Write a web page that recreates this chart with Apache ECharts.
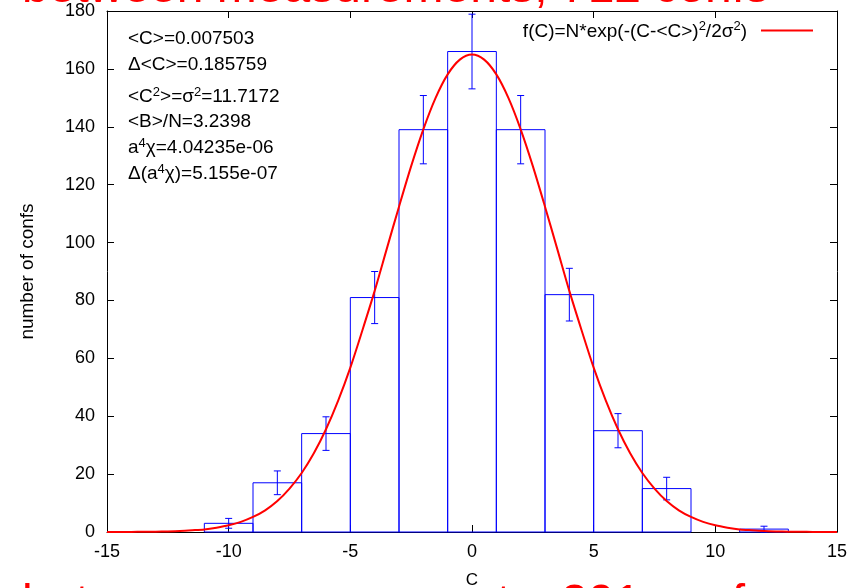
<!DOCTYPE html>
<html>
<head>
<meta charset="utf-8">
<title>C distribution</title>
<script src="https://cdn.jsdelivr.net/npm/echarts@6/dist/echarts.min.js"></script>
<style>
    html, body { margin: 0; padding: 0; background: #fff; }
    #chart { width: 852px; height: 588px; }
</style>
</head>
<body>
<div id="chart"></div>
<script>
'use strict';

// histogram bins (centre of each bin, width 2) and counts
var binCentres = [-10, -8, -6, -4, -2, 0, 2, 4, 6, 8, 10, 12];
var binCounts  = [3, 17, 34, 81, 139, 166, 139, 82, 35, 15, 0, 1];
var binErrors  = [1.7, 4.1, 5.8, 9.0, 11.8, 12.9, 11.8, 9.1, 5.9, 3.9, 0, 1.0];
var binHalf = 1;

// fitted gaussian, every half unit
var curveX = [-15, -14.5, -14, -13.5, -13, -12.5, -12, -11.5, -11, -10.5, -10, -9.5, -9, -8.5,
              -8, -7.5, -7, -6.5, -6, -5.5, -5, -4.5, -4, -3.5, -3, -2.5, -2, -1.5, -1, -0.5,
              0, 0.5, 1, 1.5, 2, 2.5, 3, 3.5, 4, 4.5, 5, 5.5, 6, 6.5, 7, 7.5, 8, 8.5,
              9, 9.5, 10, 10.5, 11, 11.5, 12, 12.5, 13, 13.5, 14, 14.5, 15];
var curveY = [0, 0.02, 0.04, 0.07, 0.12, 0.21, 0.35, 0.6, 0.9, 1.5, 2.3, 3.5, 5.2, 7.5,
              10.7, 15.0, 20.4, 27.2, 35.5, 45.4, 56.8, 69.8, 83.3, 97.9, 112.4, 126.4, 139.1, 149.9, 158.1, 163.2,
              165, 163.2, 158.1, 149.9, 139.1, 126.4, 112.4, 97.9, 83.3, 69.8, 56.8, 45.4, 35.5, 27.2, 20.4, 15.0, 10.7, 7.5,
              5.2, 3.5, 2.3, 1.5, 0.9, 0.6, 0.35, 0.21, 0.12, 0.07, 0.04, 0.02, 0];

var curveName = 'f(C)=N*exp(-(C-<C>)^2/2σ^2)';

// fit results printed in the top left corner
var statLines = [
    '{n|<C>=0.007503}',
    '{n|Δ<C>=0.185759}',
    '{n|<C}{s|2}{n|>=σ}{s|2}{n|=11.7172}',
    '{n|<B>/N=3.2398}',
    '{n|a}{s|4}{n|χ=4.04235e-06}',
    '{n|Δ(a}{s|4}{n|χ)=5.155e-07}'
];
var statY = [38, 64, 96, 121, 147, 173];

var titleTop = 'between measurements, 712 confs';
var titleBottom = 'between measurements, 201 confs';

var FONT = '"Liberation Sans", Arial, sans-serif';

var richText = {
    n: { fontSize: 19, fontFamily: FONT, color: '#000', lineHeight: 21, verticalAlign: 'bottom' },
    s: { fontSize: 13, fontFamily: FONT, color: '#000', lineHeight: 21, verticalAlign: 'top' },
    g: { width: 9, lineHeight: 21 }
};

var chart = echarts.init(document.getElementById('chart'), null, { renderer: 'canvas' });

function renderBin(params, api) {
    var c = api.value(0);
    var v = api.value(1);
    if (!v) {
        return null;
    }
    var p0 = api.coord([c - binHalf, 0]);
    var p1 = api.coord([c + binHalf, v]);
    return {
        type: 'rect',
        shape: { x: p0[0], y: p1[1], width: p1[0] - p0[0], height: p0[1] - p1[1] },
        style: { fill: 'none', stroke: '#0000ff', lineWidth: 1 }
    };
}

function renderError(params, api) {
    var c = api.value(0);
    var v = api.value(1);
    var e = api.value(2);
    if (!e) {
        return null;
    }
    var hi = api.coord([c, v + e]);
    var lo = api.coord([c, v - e]);
    var cap = 3.5;
    var style = { stroke: '#0000ff', lineWidth: 1 };
    return {
        type: 'group',
        children: [
            { type: 'line', shape: { x1: hi[0], y1: hi[1], x2: lo[0], y2: lo[1] }, style: style },
            { type: 'line', shape: { x1: hi[0] - cap, y1: hi[1], x2: hi[0] + cap, y2: hi[1] }, style: style },
            { type: 'line', shape: { x1: lo[0] - cap, y1: lo[1], x2: lo[0] + cap, y2: lo[1] }, style: style }
        ]
    };
}

var binData = binCentres.map(function (c, i) { return [c, binCounts[i]]; });
var errData = binCentres.map(function (c, i) { return [c, binCounts[i], binErrors[i]]; });
var curveData = curveX.map(function (x, i) { return [x, curveY[i]]; });

var axisLine = { show: true, onZero: false, lineStyle: { color: '#000', width: 1 } };
var axisTick = { show: true, inside: true, length: 7, lineStyle: { color: '#000', width: 1 } };
var axisLabel = { color: '#000', fontSize: 18, fontFamily: FONT };

var graphics = statLines.map(function (line, i) {
    return {
        type: 'text',
        x: 128,
        y: statY[i],
        z: 10,
        style: { text: line, rich: richText, verticalAlign: 'middle', align: 'left' }
    };
});

// overlapping red captions, cut off at the top and bottom edges
graphics.push({
    type: 'text', x: 22, y: -11.5, z: 20,
    style: { text: titleTop, fill: '#ff0000', font: '48px ' + FONT, verticalAlign: 'middle', align: 'left' }
});
graphics.push({
    type: 'text', x: 22, y: 605, z: 20,
    style: { text: titleBottom, fill: '#ff0000', font: '48px ' + FONT, verticalAlign: 'middle', align: 'left' }
});

var option = {
    animation: false,
    backgroundColor: '#fff',
    grid: { left: 107, right: 15, top: 11, bottom: 56, outerBoundsMode: 'none', containLabel: false },
    legend: {
        data: [curveName],
        right: 39,
        top: 20,
        padding: 0,
        align: 'right',
        icon: 'rect',
        itemWidth: 52,
        itemHeight: 2,
        formatter: function () {
            return '{n|f(C)=N*exp(-(C-<C>)}{s|2}{n|/2σ}{s|2}{n|)}{g| }';
        },
        textStyle: { rich: richText }
    },
    xAxis: [{
        type: 'value',
        min: -15,
        max: 15,
        interval: 5,
        name: 'C',
        nameLocation: 'middle',
        nameGap: 40,
        nameTextStyle: { color: '#000', fontSize: 17, fontFamily: FONT },
        axisLine: axisLine,
        axisTick: axisTick,
        axisLabel: Object.assign({ margin: 11 }, axisLabel),
        splitLine: { show: false }
    }, {
        type: 'value',
        position: 'top',
        min: -15,
        max: 15,
        interval: 5,
        axisLine: axisLine,
        axisTick: axisTick,
        axisLabel: { show: false },
        splitLine: { show: false }
    }],
    yAxis: [{
        type: 'value',
        min: 0,
        max: 180,
        interval: 20,
        name: 'number of confs',
        nameLocation: 'middle',
        nameGap: 70,
        nameTextStyle: { color: '#000', fontSize: 19, fontFamily: FONT },
        axisLine: axisLine,
        axisTick: axisTick,
        axisLabel: Object.assign({ margin: 12 }, axisLabel),
        splitLine: { show: false }
    }, {
        type: 'value',
        position: 'right',
        min: 0,
        max: 180,
        interval: 20,
        axisLine: axisLine,
        axisTick: axisTick,
        axisLabel: { show: false },
        splitLine: { show: false }
    }],
    series: [{
        name: 'histogram',
        type: 'custom',
        renderItem: renderBin,
        data: binData,
        z: 2
    }, {
        name: 'errors',
        type: 'custom',
        renderItem: renderError,
        data: errData,
        z: 3
    }, {
        name: curveName,
        type: 'line',
        data: curveData,
        smooth: 0.3,
        showSymbol: false,
        itemStyle: { color: '#ff0000' },
        lineStyle: { color: '#ff0000', width: 2 },
        z: 4
    }],
    graphic: graphics
};

chart.setOption(option);
</script>
</body>
</html>
